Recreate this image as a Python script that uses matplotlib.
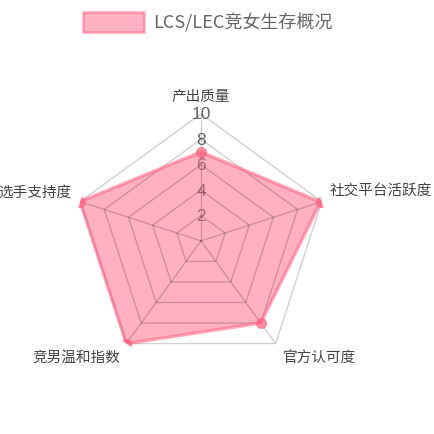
import numpy as np
import matplotlib as mpl
mpl.use("Agg")
import matplotlib.pyplot as plt
from matplotlib.patches import Rectangle

plt.rcParams['font.family'] = ['Noto Sans CJK SC', 'DejaVu Sans']

categories = ["产出质量", "社交平台活跃度", "官方认可度", "竞男温和指数", "选手支持度"]
values = [7.0, 9.9, 8.0, 10.0, 10.0]
levels = [2, 4, 6, 8, 10]
series_name = "LCS/LEC竞女生存概况"

pink = "#ff6384"
grey_text = "#666666"

n = len(categories)
theta = np.arange(n) * 2 * np.pi / n
theta_closed = np.append(theta, theta[0])

fig = plt.figure(figsize=(4.35, 4.35), dpi=100)
ax = fig.add_axes([0.170, 0.152, 0.584, 0.584], projection="polar")
ax.set_theta_offset(np.pi / 2)
ax.set_theta_direction(-1)
ax.set_ylim(0, 10)
ax.grid(False)
ax.spines["polar"].set_visible(False)
ax.set_xticks([])
ax.set_yticks([])
ax.patch.set_alpha(0)

# pentagon grid + spokes
for lv in levels:
    ax.plot(theta_closed, [lv] * (n + 1), color="black", alpha=0.18, lw=1, zorder=3)
for t in theta:
    ax.plot([t, t], [0, 10], color="black", alpha=0.18, lw=1, zorder=3)

# tick labels (sit under the fill)
for lv in levels:
    ax.text(0, lv, str(lv), ha="center", va="center", fontsize=12.5,
            color=grey_text, family=["Liberation Sans", "DejaVu Sans"], zorder=1)

# data
vals_closed = values + values[:1]
ax.fill(theta_closed, vals_closed, color=pink, alpha=0.5, lw=0, zorder=2)
ax.plot(theta_closed, vals_closed, color=pink, alpha=0.55, lw=2.5, zorder=4)
ax.plot(theta, values, "o", color=pink, alpha=0.7, ms=7, mec=pink, zorder=5)

# point labels
offsets = [(0, 18, "center"), (8, 12, "left"), (7, -13, "left"),
           (-6, -13, "right"), (-9, 10, "right")]
for t, lab, (dx, dy, ha) in zip(theta, categories, offsets):
    ax.annotate(lab, xy=(t, 10), xytext=(dx, dy), textcoords="offset pixels",
                ha=ha, va="center", fontsize=10.5, color="#444444",
                annotation_clip=False)

# legend
fig.patches.append(Rectangle((83 / 435, 1 - 33 / 435), 61 / 435, 20 / 435,
                             transform=fig.transFigure, facecolor=pink,
                             alpha=0.5, edgecolor=pink, lw=2))
fig.text(153 / 435, 1 - 23 / 435, series_name, ha="left", va="center",
         fontsize=13, color=grey_text)

fig.savefig("out.png", dpi=100)
